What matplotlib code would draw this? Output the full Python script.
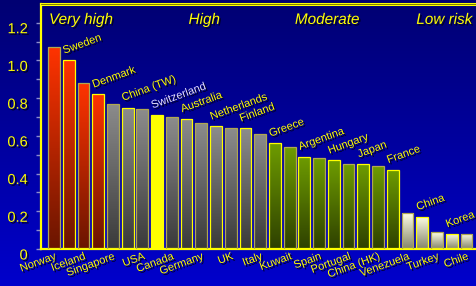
import numpy as np
import matplotlib
matplotlib.use('Agg')
import matplotlib.pyplot as plt
import matplotlib.patheffects as pe
import matplotlib.transforms as mtransforms
from matplotlib.colors import LinearSegmentedColormap

## ---------------------------------------------------------------------
## data
countries = ['Norway', 'Sweden', 'Iceland', 'Denmark', 'Singapore', 'China (TW)', 'USA',
             'Switzerland', 'Canada', 'Australia', 'Germany', 'Netherlands', 'UK', 'Finland',
             'Italy', 'Greece', 'Kuwait', 'Argentina', 'Spain', 'Hungary', 'Portugal', 'Japan',
             'China (HK)', 'France', 'Venezuela', 'China', 'Turkey', 'Korea', 'Chile']
values = [1.07, 1.00, 0.88, 0.82, 0.77, 0.75, 0.74, 0.71, 0.70, 0.69, 0.67, 0.65, 0.64, 0.64,
          0.61, 0.56, 0.54, 0.49, 0.48, 0.47, 0.45, 0.45, 0.44, 0.42, 0.19, 0.17, 0.09, 0.08, 0.08]
groups = ['Very high'] * 4 + ['High'] * 11 + ['Moderate'] * 9 + ['Low risk'] * 5
group_names = ['Very high', 'High', 'Moderate', 'Low risk']
highlight = 'Switzerland'
yticks = [0, 0.2, 0.4, 0.6, 0.8, 1.0, 1.2]
ytick_labels = ['0', '0.2', '0.4', '0.6', '0.8', '1.0', '1.2']

## ---------------------------------------------------------------------
## styles
plt.rcParams['font.family'] = ['Liberation Sans', 'DejaVu Sans']
YEL = '#ffff00'
grad_colors = {'Very high': ('#6a1500', '#ff3300'),
               'High': ('#3a3a3a', '#8c8c8c'),
               'Moderate': ('#2e4000', '#6e9c00'),
               'Low risk': ('#85856a', '#ffffe6')}
shadow = [pe.SimplePatchShadow(offset=(1.2, -1.2), shadow_rgbFace='#000020', alpha=0.9), pe.Normal()]

fig = plt.figure(figsize=(4.76, 2.86), dpi=100)

# blue gradient background
bg = fig.add_axes([0, 0, 1, 1], zorder=-5)
bg.imshow(np.linspace(0, 1, 256).reshape(-1, 1), aspect='auto', origin='upper',
          cmap=LinearSegmentedColormap.from_list('bg', ['#000072', '#0000cc']),
          extent=[0, 1, 0, 1])
bg.axis('off')

ax = fig.add_axes([41 / 476, 1 - 249 / 286, 1 - 41 / 476, (249 - 3.5) / 286])
ax.set_facecolor('none')

x = np.arange(len(countries))
edges = [('#b0a850' if i % 2 == 0 else YEL) for i in x]
bars = ax.bar(x, values, width=0.8, facecolor='none', edgecolor=edges, linewidth=0.9, zorder=3)

grad = np.linspace(0, 1, 128).reshape(-1, 1)
for b, name, g in zip(bars, countries, groups):
    if name == highlight:
        b.set_facecolor(YEL)
        b.set_edgecolor(YEL)
        continue
    cm = LinearSegmentedColormap.from_list(g, list(grad_colors[g]))
    im = ax.imshow(grad, origin='lower', aspect='auto', cmap=cm, zorder=2,
                   extent=[b.get_x(), b.get_x() + b.get_width(), 0, b.get_height()])
    im.set_clip_path(b)

ax.set_xlim(-0.88, 28.65)
ax.set_ylim(0, 1.302)

## ---------------------------------------------------------------------
## country labels: even below axis, odd above bar
for i, (name, v) in enumerate(zip(countries, values)):
    col = '#e6e0ff' if name == highlight else YEL
    if i % 2 == 0:
        ax.text(i + 0.25, -0.012, name, rotation=20, ha='right', va='top', fontsize=8,
                color=col, path_effects=shadow, clip_on=False)
    else:
        ax.text(i - 0.3, v + 0.035, name, rotation=20, rotation_mode='anchor', ha='left',
                va='baseline', fontsize=8, color=col, path_effects=shadow, clip_on=False)

# group headings
for name, gx in zip(group_names, [1.83, 10.2, 18.55, 26.5]):
    ax.text(gx, 1.215, name, ha='center', va='center', fontsize=11, style='italic',
            color=YEL, path_effects=shadow)

## ---------------------------------------------------------------------
## axes styling
ax.set_xticks([])
ax.set_yticks(yticks)
ax.set_yticklabels(ytick_labels)
ax.set_yticks(np.arange(0.1, 1.3, 0.2), minor=True)
ax.tick_params(axis='y', which='both', direction='out', length=3.5, width=1,
               color='#8c8cd0', pad=6, labelsize=10.5, labelcolor=YEL)
off = mtransforms.ScaledTranslation(0, -5 / 100, fig.dpi_scale_trans)
for lab in ax.get_yticklabels():
    lab.set_transform(lab.get_transform() + off)
    lab.set_path_effects(shadow)

for s in ['right']:
    ax.spines[s].set_visible(False)
ax.spines['left'].set_color(YEL)
ax.spines['left'].set_linewidth(1.6)
ax.spines['bottom'].set_color(YEL)
ax.spines['bottom'].set_linewidth(1.6)
ax.spines['top'].set_color(YEL)
ax.spines['top'].set_linewidth(2.2)
ax.plot([0, 1], [1, 1], transform=ax.transAxes, color='#202000', lw=0.4, clip_on=False, zorder=5)

fig.savefig('out.png', dpi=100)
